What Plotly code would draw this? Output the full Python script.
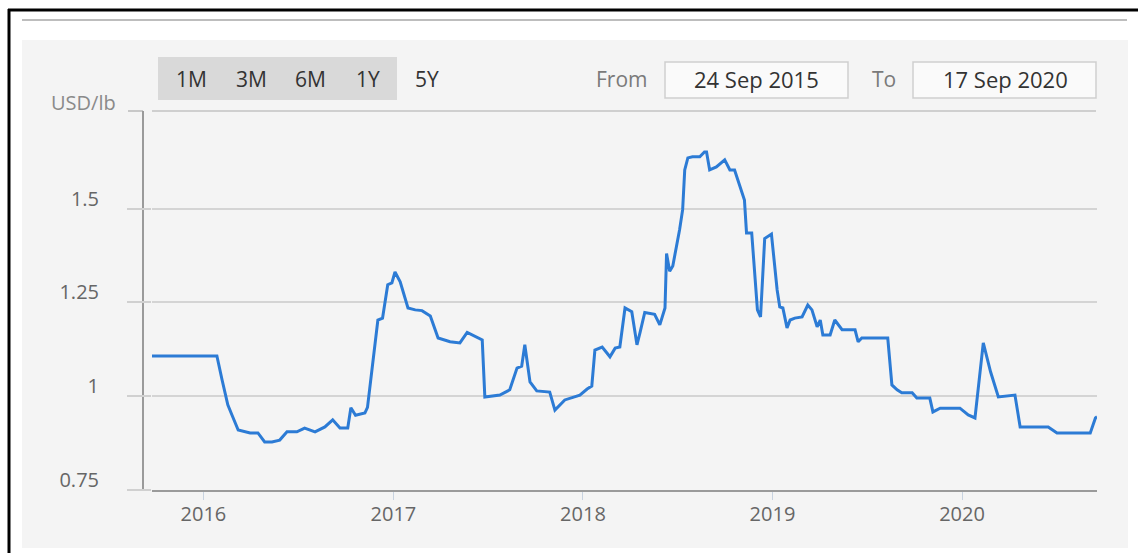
import plotly.graph_objects as go

# Price history, USD per pound
dates = [
    "2015-09-24", "2016-01-27", "2016-02-06", "2016-02-17", "2016-02-25", "2016-03-08",
    "2016-03-31", "2016-04-15", "2016-04-28", "2016-05-12", "2016-05-27", "2016-06-10",
    "2016-06-29", "2016-07-14", "2016-08-03", "2016-08-22", "2016-09-06", "2016-09-20",
    "2016-10-05", "2016-10-11", "2016-10-20", "2016-11-07", "2016-11-12", "2016-11-20",
    "2016-12-02", "2016-12-11", "2016-12-21", "2016-12-29", "2017-01-04", "2017-01-14",
    "2017-01-29", "2017-02-12", "2017-02-25", "2017-03-13", "2017-03-28", "2017-04-20",
    "2017-05-09", "2017-05-23", "2017-06-13", "2017-06-21", "2017-06-26", "2017-07-25",
    "2017-08-13", "2017-08-27", "2017-09-05", "2017-09-11", "2017-09-21", "2017-10-04",
    "2017-10-29", "2017-11-08", "2017-11-27", "2017-12-26", "2018-01-09", "2018-01-18",
    "2018-01-24", "2018-02-07", "2018-02-22", "2018-03-04", "2018-03-13", "2018-03-23",
    "2018-04-05", "2018-04-15", "2018-04-21", "2018-04-30", "2018-05-19", "2018-05-29",
    "2018-06-08", "2018-06-11", "2018-06-17", "2018-06-23", "2018-07-06", "2018-07-12",
    "2018-07-16", "2018-07-22", "2018-07-31", "2018-08-14", "2018-08-23", "2018-08-27",
    "2018-09-02", "2018-09-15", "2018-10-01", "2018-10-11", "2018-10-20", "2018-10-30",
    "2018-11-08", "2018-11-12", "2018-11-22", "2018-12-03", "2018-12-09", "2018-12-17",
    "2018-12-30", "2019-01-10", "2019-01-15", "2019-01-21", "2019-01-29", "2019-02-04",
    "2019-02-13", "2019-02-27", "2019-03-10", "2019-03-18", "2019-03-28", "2019-04-03",
    "2019-04-08", "2019-04-22", "2019-05-01", "2019-05-15", "2019-06-09", "2019-06-15",
    "2019-06-22", "2019-08-11", "2019-08-19", "2019-08-29", "2019-09-07", "2019-09-27",
    "2019-10-06", "2019-10-31", "2019-11-06", "2019-11-20", "2019-12-28", "2020-01-13",
    "2020-01-26", "2020-02-11", "2020-02-25", "2020-03-11", "2020-04-12", "2020-04-22",
    "2020-06-15", "2020-07-02", "2020-09-04", "2020-09-14", "2020-09-17",
]
prices = [
    1.107, 1.107, 1.043, 0.977, 0.950, 0.910,
    0.902, 0.902, 0.878, 0.878, 0.883, 0.905,
    0.905, 0.915, 0.905, 0.918, 0.937, 0.915,
    0.915, 0.969, 0.949, 0.955, 0.970, 1.057,
    1.203, 1.208, 1.297, 1.302, 1.331, 1.305,
    1.235, 1.230, 1.228, 1.214, 1.155, 1.145,
    1.142, 1.170, 1.157, 1.150, 0.998, 1.003,
    1.017, 1.075, 1.080, 1.137, 1.038, 1.014,
    1.011, 0.963, 0.990, 1.003, 1.019, 1.027,
    1.123, 1.131, 1.105, 1.128, 1.131, 1.235,
    1.225, 1.137, 1.170, 1.223, 1.218, 1.190,
    1.235, 1.380, 1.333, 1.347, 1.443, 1.497,
    1.603, 1.635, 1.638, 1.638, 1.651, 1.651,
    1.603, 1.611, 1.630, 1.603, 1.603, 1.563,
    1.523, 1.435, 1.435, 1.230, 1.211, 1.420,
    1.432, 1.283, 1.238, 1.235, 1.182, 1.203,
    1.208, 1.211, 1.243, 1.230, 1.185, 1.203,
    1.163, 1.163, 1.203, 1.177, 1.177, 1.145,
    1.155, 1.155, 1.030, 1.017, 1.009, 1.009,
    0.995, 0.995, 0.958, 0.968, 0.968, 0.950,
    0.942, 1.142, 1.065, 0.998, 1.003, 0.918,
    0.918, 0.902, 0.902, 0.942, 0.945,
]

y_ticks = [0.75, 1.0, 1.25, 1.5]
y_tick_text = ["0.75", "1", "1.25", "1.5"]
x_ticks = ["2016-01-01", "2017-01-01", "2018-01-01", "2019-01-01", "2020-01-01"]
x_tick_text = ["2016", "2017", "2018", "2019", "2020"]
range_buttons = ["1M", "3M", "6M", "1Y", "5Y"]
date_from = "24 Sep 2015"
date_to = "17 Sep 2020"
unit_label = "USD/lb"

W, H = 1138, 553
L, R, T, B = 152, 41, 111, 63
PW, PH = W - L - R, H - T - B
FONT = "Open Sans"


def fx(px):
    return (px - L) / PW


def fy(py):
    return (H - B - py) / PH


shapes = []


def rect(x0, y0, x1, y1, fill=None, line_color=None, line_width=0, layer="below"):
    shapes.append(dict(
        type="rect", xref="paper", yref="paper",
        x0=fx(x0), x1=fx(x1), y0=fy(y1), y1=fy(y0),
        fillcolor=fill or "rgba(0,0,0,0)",
        line=dict(color=line_color or "rgba(0,0,0,0)", width=line_width),
        layer=layer,
    ))


def hline(x0, x1, y, color, width, layer="below"):
    shapes.append(dict(type="line", xref="paper", yref="paper",
                       x0=fx(x0), x1=fx(x1), y0=fy(y), y1=fy(y),
                       line=dict(color=color, width=width), layer=layer))


def vline(x, y0, y1, color, width, layer="below"):
    shapes.append(dict(type="line", xref="paper", yref="paper",
                       x0=fx(x), x1=fx(x), y0=fy(y0), y1=fy(y1),
                       line=dict(color=color, width=width), layer=layer))


# frame and widget panel
hline(8, W, 10, "#000000", 3, layer="above")
vline(9, 9, H, "#000000", 3, layer="above")
hline(22, 1127, 20, "#bdbdbd", 2)
rect(22, 40, 1128, 548, fill="#f4f4f4")

# range selector strip
rect(158, 57, 397, 100, fill="#d9d9d9")
# date inputs
rect(665, 62, 848, 98, fill="#fafafa", line_color="#cfcfcf", line_width=1.5)
rect(913, 62, 1096, 98, fill="#fafafa", line_color="#cfcfcf", line_width=1.5)

# plot frame: top rule and vertical axis line
hline(152, 1096, 111, "#cfcfcf", 2)
hline(128, 143, 111, "#c8c8c8", 2)
vline(143, 111, 490, "#9a9a9a", 2)

annotations = []
btn_x = [191, 251, 310, 368, 427]
for label, cx in zip(range_buttons, btn_x):
    annotations.append(dict(text=label, x=fx(cx), y=fy(79), xref="paper", yref="paper",
                            showarrow=False, xanchor="center", yanchor="middle",
                            font=dict(family=FONT, size=21, color="#333333")))

annotations += [
    dict(text="From", x=fx(622), y=fy(79), xref="paper", yref="paper", showarrow=False,
         xanchor="center", yanchor="middle", font=dict(family=FONT, size=21, color="#7a7a7a")),
    dict(text=date_from, x=fx(756), y=fy(79), xref="paper", yref="paper", showarrow=False,
         xanchor="center", yanchor="middle", font=dict(family=FONT, size=22, color="#333333")),
    dict(text="To", x=fx(884), y=fy(79), xref="paper", yref="paper", showarrow=False,
         xanchor="center", yanchor="middle", font=dict(family=FONT, size=21, color="#7a7a7a")),
    dict(text=date_to, x=fx(1005), y=fy(79), xref="paper", yref="paper", showarrow=False,
         xanchor="center", yanchor="middle", font=dict(family=FONT, size=22, color="#333333")),
    dict(text=unit_label, x=fx(118), y=fy(103), xref="paper", yref="paper", showarrow=False,
         xanchor="right", yanchor="middle", font=dict(family=FONT, size=20, color="#8a8a8a")),
]

fig = go.Figure()
fig.add_trace(go.Scatter(
    x=dates, y=prices, mode="lines",
    line=dict(color="#2c7bd5", width=3),
    hoverinfo="x+y", showlegend=False,
))

fig.update_layout(
    width=W, height=H,
    margin=dict(l=L, r=R, t=T, b=B, pad=0),
    paper_bgcolor="#ffffff",
    plot_bgcolor="rgba(0,0,0,0)",
    font=dict(family=FONT, color="#666666"),
    shapes=shapes,
    annotations=annotations,
    xaxis=dict(
        type="date",
        range=["2015-09-24", "2020-09-17"],
        tickvals=x_ticks, ticktext=x_tick_text,
        ticks="outside", ticklen=8, tickwidth=1, tickcolor="#c8d3e0",
        ticklabelstandoff=-3,
        tickfont=dict(family=FONT, size=20, color="#666666"),
        showline=True, linecolor="#9a9a9a", linewidth=2,
        showgrid=False, zeroline=False, fixedrange=True,
    ),
    yaxis=dict(
        range=[0.75, 1.76],
        tickvals=y_ticks, ticktext=y_tick_text,
        ticks="outside", ticklen=24, tickwidth=2, tickcolor="#d0d0d0",
        ticklabelstandoff=24, ticklabelshift=-10,
        tickfont=dict(family=FONT, size=20, color="#666666"),
        showgrid=True, gridcolor="#d4d4d4", gridwidth=2,
        showline=False, zeroline=False, fixedrange=True,
    ),
)

fig.write_html("out.html", config={"displayModeBar": False})
